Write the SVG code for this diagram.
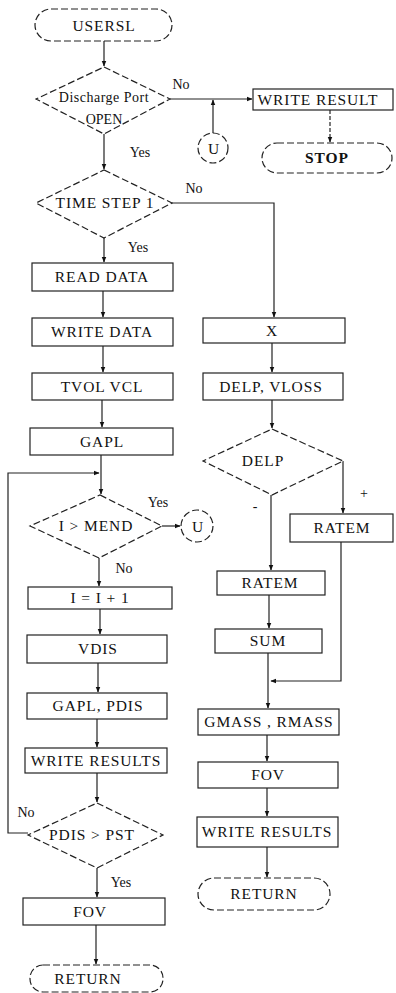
<svg xmlns="http://www.w3.org/2000/svg" width="396" height="993" viewBox="0 0 396 993">
<defs>
<marker id="ah" viewBox="0 0 10 10" refX="9" refY="5" markerWidth="5" markerHeight="5" orient="auto-start-reverse">
<path d="M0,1 L10,5 L0,9 z" fill="#111"/>
</marker>
<style>
.box{fill:#fff;stroke:#222;stroke-width:1.2}
.dsh{fill:#fff;stroke:#222;stroke-width:1.2;stroke-dasharray:7 3}
.t{font-family:"Liberation Serif","Times New Roman",serif;font-size:15.5px;letter-spacing:0.9px;fill:#111;text-anchor:middle}
.lbl{font-family:"Liberation Serif","Times New Roman",serif;font-size:14px;fill:#111;text-anchor:middle}
.c{fill:none;stroke:#222;stroke-width:1.2}
</style>
</defs>
<rect width="396" height="993" fill="#fff"/>
<g id="connectors">
<path class="c" d="M104,41 V66" marker-end="url(#ah)"/>
<path class="c" d="M170,99 H252" marker-end="url(#ah)"/>
<path class="c" d="M213,133 V100" marker-end="url(#ah)"/>
<path class="c" d="M330,110 V142" stroke-dasharray="4 2" marker-end="url(#ah)"/>
<path class="c" d="M104,134 V169" marker-end="url(#ah)"/>
<path class="c" d="M172,203 H274 V317" marker-end="url(#ah)"/>
<path class="c" d="M104,238 V262" marker-end="url(#ah)"/>
<path class="c" d="M103,291 V317" marker-end="url(#ah)"/>
<path class="c" d="M103,346 V372" marker-end="url(#ah)"/>
<path class="c" d="M272,343 V372" marker-end="url(#ah)"/>
<path class="c" d="M102,400 V427" marker-end="url(#ah)"/>
<path class="c" d="M272,400 V428" marker-end="url(#ah)"/>
<path class="c" d="M101,455 V494" marker-end="url(#ah)"/>
<path class="c" d="M28,833 H8 V473 H99" marker-end="url(#ah)"/>
<path class="c" d="M162,526 H180" marker-end="url(#ah)"/>
<path class="c" d="M99,558 V586" marker-end="url(#ah)"/>
<path class="c" d="M100,609 V634" marker-end="url(#ah)"/>
<path class="c" d="M98,663 V692" marker-end="url(#ah)"/>
<path class="c" d="M97,719 V747" marker-end="url(#ah)"/>
<path class="c" d="M97,773 V802" marker-end="url(#ah)"/>
<path class="c" d="M97,868 V897" marker-end="url(#ah)"/>
<path class="c" d="M96,925 V964" marker-end="url(#ah)"/>
<path class="c" d="M343,461 V513" marker-end="url(#ah)"/>
<path class="c" d="M271,495 V570" marker-end="url(#ah)"/>
<path class="c" d="M269,595 V628" marker-end="url(#ah)"/>
<path class="c" d="M268,653 V708" marker-end="url(#ah)"/>
<path class="c" d="M341,542 V681 H271" marker-end="url(#ah)"/>
<path class="c" d="M267,735 V761" marker-end="url(#ah)"/>
<path class="c" d="M267,788 V816" marker-end="url(#ah)"/>
<path class="c" d="M267,847 V877" marker-end="url(#ah)"/>
<text class="lbl" x="181" y="89">No</text>
<text class="lbl" x="140" y="157">Yes</text>
<text class="lbl" x="194" y="193">No</text>
<text class="lbl" x="138" y="252">Yes</text>
<text class="lbl" x="158" y="507">Yes</text>
<text class="lbl" x="124" y="573">No</text>
<text class="lbl" x="364" y="498" font-size="17">+</text>
<text class="lbl" x="255" y="511" font-size="17">-</text>
<text class="lbl" x="26" y="817">No</text>
<text class="lbl" x="121" y="887">Yes</text>
</g>
<g id="n-usersl"><rect class="dsh" x="35" y="9" width="137" height="32" rx="16"/><text class="t" x="104" y="31" font-size="19">USERSL</text></g>
<g id="n-discharge"><polygon class="dsh" points="104,67 170,99 104,134 36,99"/><text class="lbl" x="104" y="102" font-size="15" letter-spacing="0.5">Discharge Port</text><text class="lbl" x="104" y="124" font-size="15">OPEN</text></g>
<g id="n-writeresult"><rect class="box" x="253" y="89" width="140" height="21"/><text class="t" x="318" y="105">WRITE RESULT</text></g>
<g id="n-u1"><circle class="dsh" cx="213" cy="148" r="15"/><text class="t" x="214" y="154" font-size="18">U</text></g>
<g id="n-stop"><rect class="dsh" x="262" y="143" width="130" height="30" rx="15"/><text class="t" x="327" y="163" font-size="14" font-weight="bold">STOP</text></g>
<g id="n-timestep"><polygon class="dsh" points="104,170 172,203 104,238 36,203"/><text class="t" x="105" y="208">TIME STEP 1</text></g>
<g id="n-readdata"><rect class="box" x="32" y="263" width="141" height="28"/><text class="t" x="102" y="282">READ DATA</text></g>
<g id="n-writedata"><rect class="box" x="32" y="318" width="141" height="28"/><text class="t" x="102" y="337">WRITE DATA</text></g>
<g id="n-x"><rect class="box" x="203" y="318" width="142" height="25"/><text class="t" x="272" y="336">X</text></g>
<g id="n-tvol"><rect class="box" x="32" y="373" width="141" height="27"/><text class="t" x="102" y="392">TVOL VCL</text></g>
<g id="n-delpvloss"><rect class="box" x="203" y="373" width="140" height="27"/><text class="t" x="271" y="392">DELP, VLOSS</text></g>
<g id="n-gapl"><rect class="box" x="30" y="428" width="143" height="27"/><text class="t" x="102" y="447">GAPL</text></g>
<g id="n-delp"><polygon class="dsh" points="272,429 343,461 272,495 203,461"/><text class="t" x="263" y="466">DELP</text></g>
<g id="n-imend"><polygon class="dsh" points="100,495 162,526 99,558 30,526"/><text class="t" x="96" y="531">I &gt; MEND</text></g>
<g id="n-u2"><circle class="dsh" cx="197" cy="526" r="16"/><text class="t" x="198" y="532" font-size="18">U</text></g>
<g id="n-ratem1"><rect class="box" x="290" y="514" width="103" height="28"/><text class="t" x="342" y="533">RATEM</text></g>
<g id="n-iinc"><rect class="box" x="28" y="587" width="144" height="22"/><text class="t" x="100" y="603">I = I + 1</text></g>
<g id="n-ratem2"><rect class="box" x="217" y="571" width="108" height="24"/><text class="t" x="270" y="588">RATEM</text></g>
<g id="n-vdis"><rect class="box" x="27" y="635" width="140" height="28"/><text class="t" x="98" y="654">VDIS</text></g>
<g id="n-sum"><rect class="box" x="215" y="629" width="107" height="24"/><text class="t" x="268" y="646">SUM</text></g>
<g id="n-gaplpdis"><rect class="box" x="27" y="693" width="140" height="26"/><text class="t" x="98" y="711">GAPL, PDIS</text></g>
<g id="n-gmass"><rect class="box" x="198" y="709" width="141" height="26"/><text class="t" x="269" y="727">GMASS , RMASS</text></g>
<g id="n-writeresults1"><rect class="box" x="25" y="748" width="142" height="25"/><text class="t" x="96" y="766">WRITE RESULTS</text></g>
<g id="n-fov1"><rect class="box" x="198" y="762" width="140" height="26"/><text class="t" x="268" y="780">FOV</text></g>
<g id="n-pdis"><polygon class="dsh" points="97,803 163,835 97,868 28,835"/><text class="t" x="92" y="840">PDIS &gt; PST</text></g>
<g id="n-writeresults2"><rect class="box" x="197" y="817" width="141" height="30"/><text class="t" x="267" y="837">WRITE RESULTS</text></g>
<g id="n-return1"><rect class="dsh" x="198" y="878" width="132" height="32" rx="16"/><text class="t" x="264" y="899">RETURN</text></g>
<g id="n-fov2"><rect class="box" x="23" y="898" width="142" height="27"/><text class="t" x="90" y="917">FOV</text></g>
<g id="n-return2"><rect class="dsh" x="30" y="965" width="133" height="27" rx="13"/><text class="t" x="88" y="984">RETURN</text></g>
</svg>
